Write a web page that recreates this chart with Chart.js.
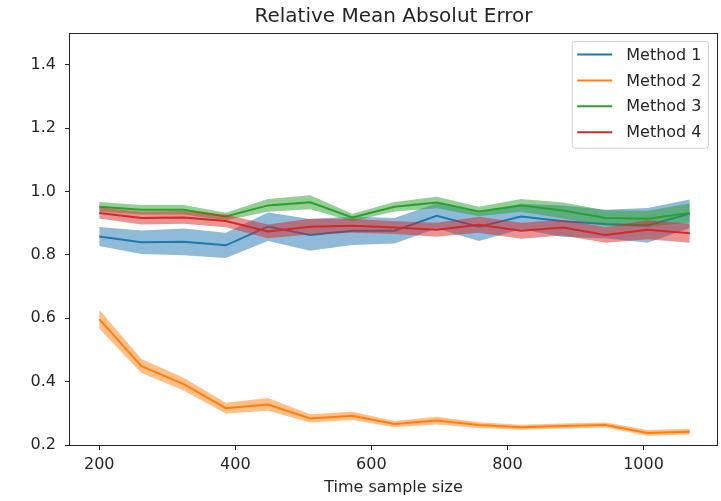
<!DOCTYPE html>
<html>
<head>
<meta charset="utf-8">
<script src="https://cdn.jsdelivr.net/npm/chart.js@4.4.1/dist/chart.umd.min.js"></script>
<style>
  html, body { margin: 0; padding: 0; background: #fff; }
</style>
</head>
<body>
<canvas id="rmae-chart" width="721" height="501"></canvas>
<script>
// x values (time sample size)
const sampleSizes = [200, 262, 324, 386, 448, 510, 572, 634, 696, 758, 820, 882, 944, 1006, 1068];

// mean error and band half-width for every method
const method1Mean = [0.858, 0.840, 0.841, 0.830, 0.889, 0.863, 0.876, 0.876, 0.923, 0.889, 0.921, 0.906, 0.897, 0.893, 0.930];
const method1Err  = [0.030, 0.037, 0.042, 0.040, 0.045, 0.050, 0.045, 0.040, 0.040, 0.045, 0.040, 0.050, 0.045, 0.055, 0.045];
const method2Mean = [0.597, 0.449, 0.392, 0.316, 0.328, 0.284, 0.292, 0.266, 0.277, 0.263, 0.256, 0.260, 0.263, 0.238, 0.242];
const method2Err  = [0.030, 0.022, 0.020, 0.017, 0.020, 0.013, 0.013, 0.010, 0.012, 0.009, 0.008, 0.008, 0.008, 0.009, 0.009];
const method3Mean = [0.952, 0.942, 0.942, 0.921, 0.956, 0.966, 0.918, 0.952, 0.965, 0.937, 0.956, 0.940, 0.916, 0.914, 0.932];
const method3Err  = [0.015, 0.015, 0.015, 0.012, 0.020, 0.022, 0.012, 0.015, 0.018, 0.015, 0.020, 0.025, 0.025, 0.025, 0.030];
const method4Mean = [0.932, 0.916, 0.918, 0.907, 0.874, 0.889, 0.892, 0.886, 0.879, 0.895, 0.876, 0.886, 0.863, 0.879, 0.868];
const method4Err  = [0.017, 0.020, 0.020, 0.020, 0.022, 0.025, 0.022, 0.020, 0.022, 0.025, 0.025, 0.025, 0.025, 0.030, 0.030];

const methodNames = ['Method 1', 'Method 2', 'Method 3', 'Method 4'];
const methodColors = ['#1f77b4', '#ff7f0e', '#2ca02c', '#d62728'];
const bandColors = ['rgba(31,119,180,0.5)', 'rgba(255,127,14,0.5)', 'rgba(44,160,44,0.5)', 'rgba(214,39,40,0.5)'];

const xTicks = [200, 400, 600, 800, 1000];
const yTicks = [0.2, 0.4, 0.6, 0.8, 1.0, 1.2, 1.4];

const FONT = 'DejaVu Sans';
const INK = '#262626';

const means = [method1Mean, method2Mean, method3Mean, method4Mean];
const errs = [method1Err, method2Err, method3Err, method4Err];

function toPoints(values) {
  return sampleSizes.map((x, i) => ({ x: x, y: values[i] }));
}

// per method: upper edge, lower edge filled up to it, then the mean line
const datasets = [];
means.forEach((mean, k) => {
  const upper = mean.map((v, i) => v + errs[k][i]);
  const lower = mean.map((v, i) => v - errs[k][i]);
  const base = (3 - k) * 3;
  const upperIndex = datasets.length;
  datasets.push({
    label: methodNames[k] + ' upper',
    data: toPoints(upper),
    borderWidth: 0,
    pointRadius: 0,
    fill: false,
    order: base + 2
  });
  datasets.push({
    label: methodNames[k] + ' lower',
    data: toPoints(lower),
    borderWidth: 0,
    pointRadius: 0,
    backgroundColor: bandColors[k],
    fill: upperIndex,
    order: base + 1
  });
  datasets.push({
    label: methodNames[k],
    data: toPoints(mean),
    borderColor: methodColors[k],
    borderWidth: 2,
    pointRadius: 0,
    fill: false,
    order: base,
    isMain: true
  });
});

// frame, title and legend box drawn on top of the plot
const framePlugin = {
  id: 'frame',
  afterDraw(chart) {
    const ctx = chart.ctx;
    const a = chart.chartArea;
    ctx.save();
    ctx.strokeStyle = INK;
    ctx.lineWidth = 1;
    ctx.strokeRect(Math.round(a.left) - 0.5, Math.round(a.top) + 0.5,
      Math.round(a.right - a.left) + 1, Math.round(a.bottom - a.top));

    ctx.fillStyle = INK;
    ctx.font = '20px "' + FONT + '"';
    ctx.textAlign = 'center';
    ctx.textBaseline = 'alphabetic';
    ctx.fillText('Relative Mean Absolut Error', (a.left + a.right) / 2, 22);

    // legend
    ctx.font = '16px "' + FONT + '"';
    const mains = chart.data.datasets.filter(d => d.isMain);
    const textW = Math.max(...mains.map(d => ctx.measureText(d.label).width));
    const boxW = 5 + 35 + 14 + textW + 7;
    const rowH = 25.9;
    const boxH = 13 + rowH * (mains.length - 1) + 16;
    const bx = a.right - 8.5 - boxW;
    const by = a.top + 8.5;
    ctx.beginPath();
    ctx.roundRect(bx, by, boxW, boxH, 3);
    ctx.fillStyle = 'rgba(255,255,255,0.8)';
    ctx.fill();
    ctx.strokeStyle = '#d0d0d0';
    ctx.stroke();
    mains.forEach((d, i) => {
      const y = by + 13 + i * rowH;
      ctx.beginPath();
      ctx.moveTo(bx + 5, y);
      ctx.lineTo(bx + 40, y);
      ctx.strokeStyle = d.borderColor;
      ctx.lineWidth = 2;
      ctx.stroke();
      ctx.fillStyle = INK;
      ctx.textAlign = 'left';
      ctx.textBaseline = 'middle';
      ctx.fillText(d.label, bx + 54, y + 1);
    });
    ctx.restore();
  }
};

const ctxChart = document.querySelector('#rmae-chart').getContext('2d');

const rmaeChart = new Chart(ctxChart, {
  type: 'line',
  data: { datasets: datasets },
  options: {
    responsive: false,
    animation: false,
    devicePixelRatio: 1,
    layout: { padding: { top: 33, right: 4, left: 0, bottom: 0 } },
    plugins: {
      legend: { display: false },
      title: { display: false },
      tooltip: { enabled: false }
    },
    scales: {
      x: {
        type: 'linear',
        min: 157,
        max: 1108,
        afterBuildTicks: s => { s.ticks = xTicks.map(v => ({ value: v })); },
        afterFit: s => { s.height = 56; },
        border: { display: false },
        grid: { drawOnChartArea: false, drawTicks: true, tickLength: 5, color: INK },
        ticks: {
          font: { family: FONT, size: 16 },
          color: INK,
          padding: 5,
          maxRotation: 0,
          autoSkip: false,
          callback: v => String(v)
        },
        title: {
          display: true,
          text: 'Time sample size',
          font: { family: FONT, size: 16 },
          color: INK,
          padding: { top: 0, bottom: 4 }
        }
      },
      y: {
        min: 0.2,
        max: 1.5,
        afterBuildTicks: s => { s.ticks = yTicks.map(v => ({ value: v })); },
        afterFit: s => { s.width = 70; },
        border: { display: false },
        grid: { drawOnChartArea: false, drawTicks: true, tickLength: 5, color: INK },
        ticks: {
          font: { family: FONT, size: 16 },
          color: INK,
          padding: 9,
          autoSkip: false,
          callback: v => v.toFixed(1)
        }
      }
    }
  },
  plugins: [framePlugin]
});
</script>
</body>
</html>
